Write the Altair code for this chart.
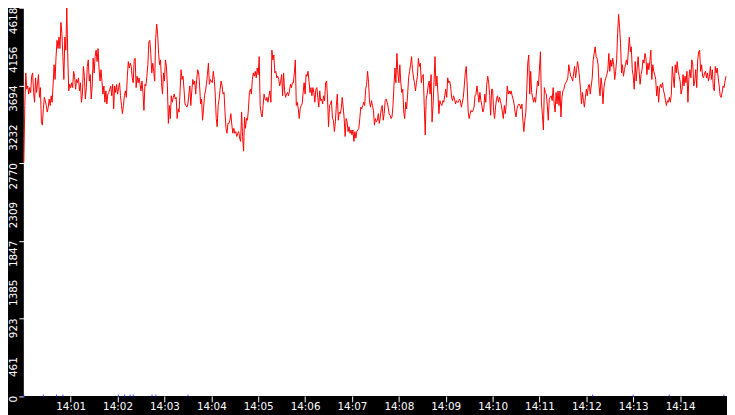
import altair as alt
import pandas as pd

# ---- data (one sample every 1.25 s from 14:00:00) ----
START = "2024-01-01 14:00:00"
SAMPLE_MS = 1250

seg1 = [2776, 3455, 3843, 3649, 3688, 3591, 3668, 3610, 3804, 3843,
        3610, 3494, 3784, 3610, 3707, 3823, 3552, 3668, 3261, 3222,
        3416, 3552, 3513, 3455, 3377, 3436, 3532, 3455, 3571, 3494,
        3707, 3940, 3765, 4036, 4230, 4133, 4269, 4133, 4444, 4308,
        4036, 3765, 4269, 4114, 4618, 4036, 3629, 3707, 3668, 3726,
        3668, 3862, 3804, 3649, 3765, 3726, 3784, 3629, 3726, 3494,
        3591, 3920, 3804, 3532, 3668, 3920, 3998, 3746, 3823, 3532,
        3688, 4017, 3843, 4036, 4114, 3978, 4133, 3901, 3746, 3881,
        3746]
seg2 = [3591, 3688, 3494, 3629, 3474, 3591, 3610, 3649, 3688, 3571,
        3707, 3416, 3688, 3610, 3707, 3591, 3668, 3726, 3571, 3455,
        3358, 3455, 3571, 3629, 3552, 3804, 3978, 3901, 3959, 3920,
        3784, 3726, 3998, 4017, 3668, 3804, 3726, 3784, 3707, 3629,
        3746, 3610, 3397, 3707, 3688, 3804, 3940, 4211, 4230, 4075,
        3843, 3959, 3862, 3746, 4250, 4424, 4308, 4075, 3940, 3998,
        3726, 3591, 3843, 3746, 3998, 3920, 3688, 3242, 3455, 3300,
        3571, 3494, 3552, 3591, 3532, 3552, 3300, 3416, 3377, 3629]
seg3 = [3881, 3765, 3804, 3649, 3474, 3455, 3436, 3474, 3591, 3688,
        3455, 3629, 3765, 3707, 3746, 3591, 3765, 3881, 3843, 3688,
        3474, 3532, 3280, 3416, 3571, 3629, 3707, 3823, 3959, 3707,
        3765, 3746, 3726, 3862, 3765, 3591, 3300, 3203, 3455, 3532,
        3649, 3746, 3688, 3591, 3610, 3377, 3184, 3125, 3242, 3242,
        3280, 3358, 3222, 3125, 3184, 3125, 3145, 3087, 3125, 3145,
        3067, 3028, 3377, 3087, 2912, 3319, 3184, 3300, 3280, 3416,
        3610, 3649, 3591, 3765, 3843, 3804, 3862, 3784, 3901, 3823]
seg4 = [4036, 3455, 3358, 3319, 3455, 3591, 3532, 3513, 3552, 3494,
        3571, 3629, 3494, 4114, 3998, 4056, 3843, 3862, 3784, 3804,
        3765, 3688, 3746, 3823, 3571, 3843, 3629, 3552, 3591, 3610,
        3571, 3629, 3707, 3668, 3726, 3726, 3843, 3998, 3455, 3494,
        3416, 3300, 3416, 3455, 3474, 3610, 3726, 3591, 3823, 3804,
        3862, 3746, 3610, 3668, 3571, 3668, 3610, 3494, 3649, 3668,
        3552, 3436, 3629, 3513, 3532, 3474, 3571, 3513, 3726, 3746,
        3532, 3203, 3455, 3474, 3513, 3300, 3280, 3145, 3261, 3455]
seg5 = [3591, 3280, 3377, 3358, 3416, 3552, 3436, 3300, 3087, 3300,
        3261, 3145, 3203, 3125, 3164, 3106, 3164, 3028, 3145, 3067,
        3145, 3164, 3184, 3300, 3436, 3416, 3455, 3494, 3455, 3649,
        3707, 3862, 3726, 3494, 3436, 3513, 3455, 3397, 3222, 3300,
        3261, 3280, 3358, 3242, 3319, 3416, 3455, 3280, 3358, 3513,
        3532, 3494, 3436, 3358, 3339, 3300, 3319, 3455, 3688, 3901,
        3726, 4075, 3843, 3726, 3940, 3726, 3610, 3649, 3377, 3300,
        3494, 3416, 3591, 3784, 3862, 3940, 4036, 3881, 3784, 3726]
seg6 = [3629, 3726, 3804, 4017, 3920, 3959, 3726, 3804, 3823, 3455,
        3106, 3532, 3591, 3688, 3746, 3591, 3823, 3261, 3455, 3726,
        4036, 3688, 3804, 3610, 3358, 3513, 3474, 3455, 3513, 3494,
        3571, 3649, 3552, 3784, 3726, 3746, 3688, 3552, 3513, 3571,
        3532, 3474, 3513, 3494, 3494, 3532, 3513, 3436, 3494, 3552,
        3688, 3843, 3920, 3688, 3377, 3300, 3358, 3397, 3377, 3397,
        3436, 3571, 3591, 3688, 3591, 3494, 3610, 3513, 3455, 3377,
        3416, 3591, 3494, 3707, 3804, 3726, 3571, 3339, 3649, 3649]
seg7 = [3397, 3300, 3436, 3532, 3571, 3494, 3552, 3513, 3455, 3377,
        3300, 3455, 3358, 3474, 3688, 3591, 3629, 3591, 3629, 3571,
        3532, 3474, 3377, 3319, 3416, 3455, 3474, 3455, 3416, 3474,
        3280, 3145, 3280, 3377, 3649, 3959, 4056, 3591, 3862, 3610,
        3552, 3494, 3552, 3494, 3629, 3746, 3688, 3901, 4095, 3494,
        3339, 3164, 3668, 3610, 3591, 3455, 3280, 3532, 3552, 3571,
        3513, 3668, 3474, 3377, 3610, 3474, 3629, 3455, 3629, 3319,
        3552, 3629, 3649, 3707, 3726, 3746, 3784, 3940, 3862, 3804]
seg8 = [3784, 3746, 3843, 3920, 3784, 3881, 3978, 3901, 3784, 3649,
        3474, 3610, 3513, 3436, 3552, 3649, 3571, 3688, 3707, 3591,
        3688, 3784, 3998, 4075, 4153, 4036, 4017, 3940, 3688, 3571,
        3784, 3688, 3474, 3668, 3746, 3784, 3823, 3881, 4075, 3862,
        3998, 3920, 4017, 3940, 3765, 3862, 3998, 4308, 4540, 4385,
        4192, 3843, 3940, 3804, 3881, 3940, 3998, 3940, 4114, 4269,
        4095, 4153, 3881, 3804, 3649, 3978, 3746, 3901, 4036, 3862,
        3707, 3823, 3881, 3998, 3959, 4075, 4017, 3823, 3959, 3881]
seg9 = [3978, 4114, 3765, 3940, 3862, 3823, 3765, 3571, 3688, 3494,
        3668, 3707, 3668, 3726, 3629, 3591, 3513, 3455, 3513, 3494,
        3552, 3494, 3591, 3920, 3784, 3668, 3940, 3843, 3978, 3862,
        3804, 3746, 3591, 3649, 3823, 3688, 3804, 3726, 3862, 3494,
        3784, 3881, 3784, 3998, 3940, 3688, 3746, 3881, 3668, 3998,
        4095, 4114, 3862, 3940, 3804, 3784, 3843, 3862, 3784, 3843,
        3746, 3804, 3920, 3765, 3881, 3668, 3629, 3920, 3843, 3901,
        3784, 3688, 3571, 3552, 3610, 3688, 3668, 3746, 3804]

# second series: small blue markers sitting on zero (seconds after 14:00:00)
marker_seconds = [0, 25, 42, 50, 121, 129, 136, 140, 164, 169, 210, 728, 780, 826, 896]

y_ticks = [0, 461, 923, 1385, 1847, 2309, 2770, 3232, 3694, 4156, 4618]
x_tick_minutes = list(range(1, 15))

values = seg1 + seg2 + seg3 + seg4 + seg5 + seg6 + seg7 + seg8 + seg9
times = pd.date_range(START, periods=len(values), freq=f"{SAMPLE_MS}ms")
df = pd.DataFrame({"t": times.strftime("%Y-%m-%dT%H:%M:%S.%f").str[:-3], "v": values})

mt = pd.Timestamp(START) + pd.to_timedelta(marker_seconds, unit="s")
dm = pd.DataFrame({"t": mt.strftime("%Y-%m-%dT%H:%M:%S"), "v": [0] * len(marker_seconds)})

dy = pd.DataFrame({"v": y_ticks, "label": [str(v) for v in y_ticks]})


def dt(m):
    return alt.DateTime(year=2024, month=1, date=1, hours=14, minutes=m)


FONT = "DejaVu Sans"
xscale = alt.Scale(domain=[dt(0), dt(15)])
yscale = alt.Scale(domain=[0, 4618], nice=False, zero=True)

xaxis = alt.Axis(values=[dt(m) for m in x_tick_minutes], format="%H:%M", title=None,
                 grid=False, domain=False, tickColor="white", tickSize=6, labelColor="white",
                 labelFont=FONT, labelFontSize=10.5, labelPadding=0, labelBaseline="top",
                 labelAlign="center", labelOverlap=False, labelFlush=False)
yaxis = alt.Axis(values=y_ticks, title=None, grid=False, domain=False,
                 tickColor="white", tickSize=5, labels=False)

line = alt.Chart(df).mark_line(color="#ff0000", strokeWidth=1).encode(
    x=alt.X("t:T", scale=xscale, axis=xaxis),
    y=alt.Y("v:Q", scale=yscale, axis=yaxis),
)
marks = alt.Chart(dm).mark_tick(color="#0000ff", orient="vertical", size=3, thickness=1).encode(
    x=alt.X("t:T", scale=xscale),
    y=alt.Y("v:Q", scale=yscale),
)
ylabels = alt.Chart(dy).mark_text(
    color="white", font=FONT, fontSize=10.5, angle=270, align="right",
    baseline="alphabetic", clip=False,
).encode(
    x=alt.value(-7),
    y=alt.Y("v:Q", scale=yscale),
    text="label:N",
)

chart = alt.layer(line, marks, ylabels).properties(
    width=711, height=392.5,
    autosize=alt.AutoSizeParams(type="none"),
    padding={"left": 16, "top": -2.5, "right": 0, "bottom": 17},
    background="black",
).configure_view(fill="white", stroke="transparent", strokeWidth=0)

chart.save("out.html", embed_options={"renderer": "svg", "actions": False})
